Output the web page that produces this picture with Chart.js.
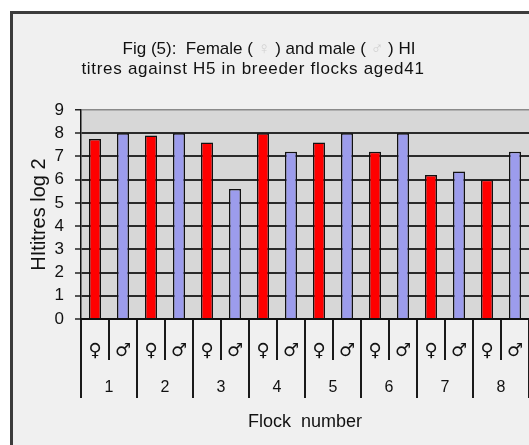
<!DOCTYPE html>
<html>
<head>
<meta charset="utf-8">
<script src="https://cdn.jsdelivr.net/npm/chart.js@4"></script>
<style>
  html, body { margin: 0; padding: 0; background: #fff; overflow: hidden; }
  #frame {
    position: absolute; left: 10px; top: 11px; width: 540px; height: 450px;
    background: #f0f0f0; border-left: 3px solid #3c3c3c; border-top: 3px solid #3c3c3c;
  }
  #wrap { position: absolute; left: 0; top: 0; width: 529px; height: 445px; }
</style>
</head>
<body>
<div id="frame"></div>
<div id="wrap"><canvas id="chart" width="529" height="445"></canvas></div>
<script>
// values (HI titres, log 2)
const flocks = ['1', '2', '3', '4', '5', '6', '7', '8'];
const femaleTitres = [7.75, 7.9, 7.6, 8, 7.6, 7.2, 6.2, 6];
const maleTitres = [8, 8, 5.6, 7.2, 8, 8, 6.35, 7.2];
const sexLabels = ['\u2640', '\u2642'];
const yTicks = [0, 1, 2, 3, 4, 5, 6, 7, 8, 9];

const FONT = 'Liberation Sans, Arial, sans-serif';

// one slot per bird group: female then male inside each flock
const slots = flocks.flatMap(() => sexLabels);
const femaleData = femaleTitres.flatMap(v => [v, null]);
const maleData = maleTitres.flatMap(v => [null, v]);

// grey plot area behind the bars
const plotBg = {
  id: 'plotBg',
  beforeDraw(chart) {
    const { ctx, chartArea: a } = chart;
    ctx.save();
    ctx.fillStyle = '#d7d7d7';
    ctx.fillRect(a.left, a.top, a.right - a.left, a.bottom - a.top);
    ctx.restore();
  }
};

// two line title, the sex symbols are printed very faint
const figTitle = {
  id: 'figTitle',
  afterDraw(chart) {
    const ctx = chart.ctx;
    ctx.save();
    ctx.font = '17px ' + FONT;
    ctx.textBaseline = 'alphabetic';
    const parts = [
      ['Fig (5):  Female ( ', '#111'], ['\u2640', '#d0d0d0'], [' ) and male ( ', '#111'],
      ['\u2642', '#d0d0d0'], [' ) HI', '#111']
    ];
    const total = parts.reduce((s, p) => s + ctx.measureText(p[0]).width, 0);
    let x = 269 - total / 2;
    for (const [txt, col] of parts) {
      ctx.fillStyle = col;
      ctx.fillText(txt, x, 54);
      x += ctx.measureText(txt).width;
    }
    ctx.fillStyle = '#111';
    ctx.textAlign = 'center';
    ctx.letterSpacing = '0.7px';
    ctx.fillText('titres against H5 in breeder flocks aged41', 253, 74);
    ctx.restore();
  }
};

new Chart(document.getElementById('chart'), {
  type: 'bar',
  data: {
    labels: slots,
    datasets: [
      { label: 'Female', data: femaleData, backgroundColor: '#ff0000' },
      { label: 'Male', data: maleData, backgroundColor: '#9c9cec' }
    ]
  },
  options: {
    responsive: false,
    animation: false,
    layout: { padding: { top: 110, left: 0, right: 0, bottom: 0 } },
    datasets: {
      bar: {
        grouped: false,
        categoryPercentage: 1,
        barPercentage: 0.43,
        borderColor: '#111',
        borderWidth: 1.5,
        xAxisID: 'x'
      }
    },
    plugins: { legend: { display: false }, tooltip: { enabled: false }, title: { display: false } },
    scales: {
      y: {
        min: 0, max: 9,
        afterBuildTicks: s => { s.ticks = yTicks.map(v => ({ value: v })); },
        afterFit: s => { s.width = 81; },
        ticks: { color: '#111', font: { family: FONT, size: 17 }, padding: 11, autoSkip: false, stepSize: 1 },
        grid: {
          color: c => (c.tick && c.tick.value === 9 ? '#8a8a8a' : '#2a2a2a'),
          lineWidth: c => (c.tick && c.tick.value === 9 ? 1.5 : 2),
          tickColor: '#222', tickLength: 6, tickWidth: 1.5
        },
        border: { color: '#111', width: 1.5 },
        title: {
          display: true, text: 'HItitres log 2', color: '#111',
          font: { family: FONT, size: 20 }, padding: { top: 27, bottom: 0 }
        }
      },
      x: {
        type: 'category',
        position: 'bottom',
        weight: 1,
        offset: true,
        afterFit: s => { s.height = 41; },
        ticks: { color: '#111', font: { family: 'DejaVu Sans', size: 18 }, padding: -19, maxRotation: 0, autoSkip: false },
        grid: { offset: true, drawOnChartArea: false, color: '#1a1a1a', lineWidth: 2, tickLength: 41 },
        border: { color: '#111', width: 2 }
      },
      xFlock: {
        type: 'category',
        position: 'bottom',
        axis: 'x',
        weight: 2,
        labels: flocks,
        offset: true,
        afterFit: s => { s.height = 85; },
        ticks: { color: '#111', font: { family: FONT, size: 16 }, padding: -20, maxRotation: 0, autoSkip: false },
        grid: { offset: true, drawOnChartArea: false, color: '#1a1a1a', lineWidth: 2, tickLength: 38 },
        border: { display: false },
        title: {
          display: true, text: 'Flock  number', color: '#111',
          font: { family: FONT, size: 18 }, padding: { top: 0, bottom: 12 }
        }
      }
    }
  },
  plugins: [plotBg, figTitle]
});
</script>
</body>
</html>
